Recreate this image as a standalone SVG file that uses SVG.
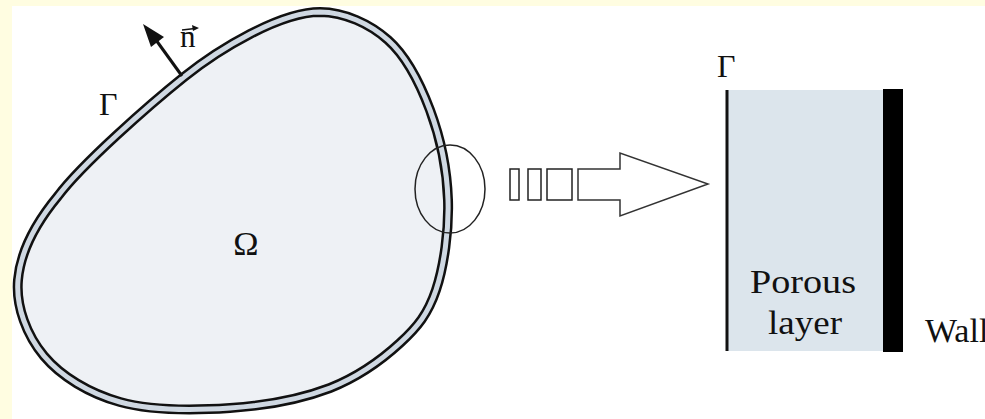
<svg xmlns="http://www.w3.org/2000/svg" width="985" height="419" viewBox="0 0 985 419">
<style>
.t{font-family:"Liberation Serif","Times New Roman",serif;fill:#111}
.thin{fill:none;stroke:#222;stroke-width:1.5}
</style>
<defs>
<path id="outline" d="M 320 12 C 344.7 12.3, 369.7 23.7, 388 40 C 406.3 56.3, 420 83.3, 430 110 C 440 136.7, 447 170, 448 200 C 449 230, 444 266.2, 436 290 C 428 313.8, 417.7 326.7, 400 343 C 382.3 359.3, 358.3 376.7, 330 388 C 301.7 398.8, 265 405.7, 230 408 C 195 410.3, 151 410.7, 120 402 C 89 393.3, 61 376.3, 44 356 C 27 335.7, 15.7 306.7, 18 280 C 20.3 253.3, 34 225, 58 196 C 82 164, 149 105, 184 77 C 219 49, 280 12, 320 12 Z"/>
</defs>
<rect x="0" y="0" width="985" height="419" fill="#ffffff"/>
<rect x="0" y="0" width="985" height="6" fill="#fffde1"/>
<rect x="0" y="0" width="12" height="419" fill="#fffde1"/>
<g id="domain">
<use href="#outline" fill="#eef1f5" stroke="#111" stroke-width="10"/>
<use href="#outline" fill="none" stroke="#cfd8e2" stroke-width="5"/>
<text class="t" x="246" y="255" font-size="34" text-anchor="middle">Ω</text>
<text class="t" x="99" y="115" font-size="32">Γ</text>
</g>
<g id="normal">
<line x1="182" y1="76" x2="156" y2="40" stroke="#111" stroke-width="3"/>
<polygon points="143,24 164,37 151,47" fill="#111"/>
<text class="t" x="180" y="47" font-size="31">n</text>
<line x1="182" y1="30" x2="195" y2="28.5" stroke="#111" stroke-width="1.5"/>
<polygon points="199,28 192,25 193,31" fill="#111"/>
</g>
<g id="zoom-circle">
<ellipse cx="450" cy="189" rx="35" ry="44" class="thin"/>
</g>
<g id="connectors">
<rect x="510" y="169" width="9" height="31" class="thin"/>
<rect x="528" y="169" width="13" height="31" class="thin"/>
<rect x="547" y="169" width="25" height="31" class="thin"/>
<polygon points="578,169 620,169 620,153 708,184 620,216 620,200 578,200" fill="#fff" stroke="#333" stroke-width="1.5"/>
</g>
<g id="porous-layer">
<rect x="727" y="90" width="156" height="261" fill="#dce5ec"/>
<line x1="727" y1="90" x2="727" y2="351" stroke="#111" stroke-width="3"/>
<text class="t" x="717" y="77" font-size="32">Γ</text>
<text class="t" x="750" y="293" font-size="34" textLength="106" lengthAdjust="spacingAndGlyphs">Porous</text>
<text class="t" x="768" y="334" font-size="34" textLength="74" lengthAdjust="spacingAndGlyphs">layer</text>
</g>
<g id="wall">
<rect x="883" y="89" width="20" height="263" fill="#000"/>
<text class="t" x="925" y="342" font-size="34">Wall</text>
</g>
</svg>
